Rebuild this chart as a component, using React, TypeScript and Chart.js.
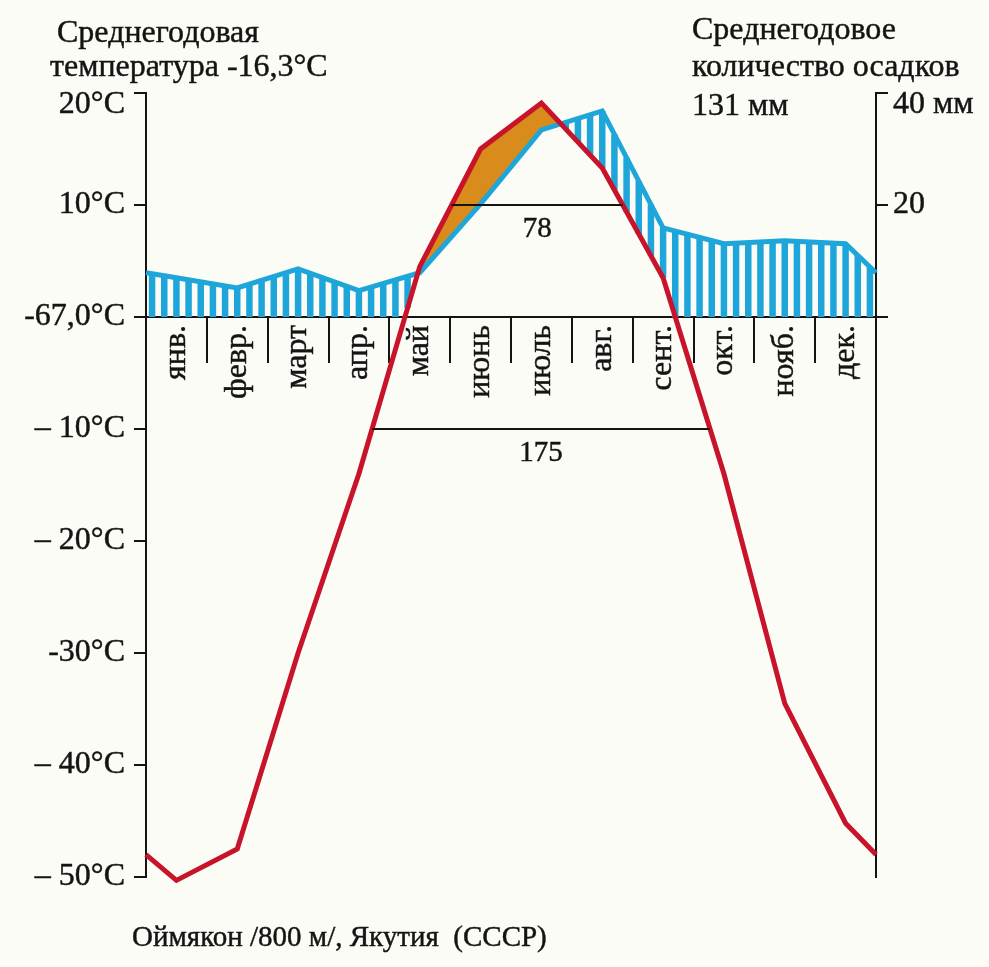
import React, { useEffect, useRef } from "react";
import { Chart, registerables } from "chart.js";

Chart.register(...registerables);

// ---- data ----
const months = ["янв.", "февр.", "март", "апр.", "май", "июнь", "июль", "авг.", "сент.", "окт.", "нояб.", "дек."];
// mean monthly temperature, °C
const temperature = [-50.3, -47.5, -30.0, -14.0, 4.5, 15.0, 19.1, 13.3, 3.5, -14.0, -34.5, -45.2];
// mean monthly precipitation, mm
const precipitation = [7.0, 5.2, 8.6, 4.7, 7.9, 20.2, 33.4, 36.8, 15.9, 13.1, 13.6, 13.1];
// values drawn at the year boundaries (start of January / end of December)
const temperatureAtYearEdge = -48.0;
const precipitationAtYearEdge = 7.9;

const tempTicks = [20, 10, 0, -10, -20, -30, -40, -50];
const tempTickLabels = ["20°C", "10°C", "-67,0°C", "– 10°C", "– 20°C", "-30°C", "– 40°C", "– 50°C"];
const precipTicks = [40, 20, 0];
const precipTickLabels = ["40 мм", "20", ""];

// periods: days with temperature above the level
const periodLevels = [10, -10];
const periodDays = ["78", "175"];

const titleLeft = ["Среднегодовая", "температура -16,3°C"];
const titleRight = ["Среднегодовое", "количество осадков", "131 мм"];
const stationLabel = "Оймякон /800 м/, Якутия  (СССР)";

// ---- styling ----
const RED = "#c8142a";
const BLUE = "#1ea6da";
const ORANGE = "#d98c1c";
const INK = "#141414";
const FONT_FAMILY = "'Liberation Serif', serif";
const STROKE = 0.45;

type Pt = { x: number; y: number };

function series(values: number[], edge: number): Pt[] {
  const pts: Pt[] = [{ x: 0, y: edge }];
  values.forEach((v, i) => pts.push({ x: i + 0.5, y: v }));
  pts.push({ x: 12, y: edge });
  return pts;
}

const tempPts = series(temperature, temperatureAtYearEdge);
const precipPts = series(precipitation, precipitationAtYearEdge);

function valueAt(pts: Pt[], x: number): number {
  for (let i = 0; i < pts.length - 1; i++) {
    const a = pts[i];
    const b = pts[i + 1];
    if (x >= a.x && x <= b.x) return a.y + ((b.y - a.y) * (x - a.x)) / (b.x - a.x);
  }
  return x < pts[0].x ? pts[0].y : pts[pts.length - 1].y;
}

function crossings(pts: Pt[], level: number): number[] {
  const res: number[] = [];
  for (let i = 0; i < pts.length - 1; i++) {
    const a = pts[i];
    const b = pts[i + 1];
    if ((a.y - level) * (b.y - level) < 0) {
      res.push(a.x + ((level - a.y) * (b.x - a.x)) / (b.y - a.y));
    }
  }
  return res;
}

function drawText(ctx: CanvasRenderingContext2D, text: string, x: number, y: number) {
  ctx.fillText(text, x, y);
  ctx.strokeText(text, x, y);
}

const climatePlugin = {
  id: "walterLieth",
  beforeDatasetsDraw(chart: any) {
    const { ctx, chartArea: a } = chart;
    const sx = chart.scales.x;
    const sT = chart.scales.yT;
    const sP = chart.scales.yP;
    const zeroY = sT.getPixelForValue(0);
    const yAt = (px: number) => {
      const xv = sx.getValueForPixel(px);
      return {
        ty: sT.getPixelForValue(valueAt(tempPts, xv)),
        py: sP.getPixelForValue(valueAt(precipPts, xv)),
      };
    };
    ctx.save();
    ctx.beginPath();
    ctx.rect(a.left, a.top, a.right - a.left, a.bottom - a.top);
    ctx.clip();

    // arid period: temperature curve above precipitation curve
    const runs: { px: number; ty: number; py: number }[][] = [];
    let run: { px: number; ty: number; py: number }[] = [];
    for (let px = a.left; px <= a.right; px += 0.5) {
      const { ty, py } = yAt(px);
      if (ty < py) run.push({ px, ty, py });
      else if (run.length) {
        runs.push(run);
        run = [];
      }
    }
    if (run.length) runs.push(run);
    ctx.fillStyle = ORANGE;
    runs.forEach((r) => {
      ctx.beginPath();
      r.forEach((p, i) => (i ? ctx.lineTo(p.px, p.ty) : ctx.moveTo(p.px, p.ty)));
      for (let i = r.length - 1; i >= 0; i--) ctx.lineTo(r[i].px, r[i].py);
      ctx.closePath();
      ctx.fill();
    });

    // humid period: vertical hatching between precipitation and max(temperature, 0)
    const n = 60;
    const step = (a.right - a.left) / n;
    ctx.strokeStyle = BLUE;
    ctx.lineWidth = 6.5;
    for (let k = 0; k < n; k++) {
      const px = a.left + (k + 0.5) * step;
      const { ty, py } = yAt(px);
      const lower = Math.min(ty, zeroY);
      if (py < lower) {
        ctx.beginPath();
        ctx.moveTo(px, py);
        ctx.lineTo(px, lower);
        ctx.stroke();
      }
    }
    ctx.restore();
  },
  afterDatasetsDraw(chart: any) {
    const { ctx } = chart;
    const sx = chart.scales.x;
    const sT = chart.scales.yT;
    ctx.save();
    periodLevels.forEach((level, i) => {
      const xs = crossings(tempPts, level);
      if (xs.length < 2) return;
      const x0 = sx.getPixelForValue(xs[0]);
      const x1 = sx.getPixelForValue(xs[xs.length - 1]);
      const y = sT.getPixelForValue(level);
      ctx.strokeStyle = INK;
      ctx.lineWidth = 2;
      ctx.beginPath();
      ctx.moveTo(x0, y);
      ctx.lineTo(x1, y);
      ctx.stroke();
      ctx.fillStyle = INK;
      ctx.lineWidth = STROKE;
      ctx.font = `29px ${FONT_FAMILY}`;
      ctx.textAlign = "center";
      ctx.textBaseline = "alphabetic";
      drawText(ctx, periodDays[i], (x0 + x1) / 2, y + 32);
    });
    ctx.restore();
  },
  afterDraw(chart: any) {
    const { ctx } = chart;
    ctx.save();
    ctx.fillStyle = INK;
    ctx.strokeStyle = INK;
    ctx.lineWidth = STROKE;
    ctx.font = `32px ${FONT_FAMILY}`;
    ctx.textAlign = "left";
    ctx.textBaseline = "alphabetic";
    drawText(ctx, titleLeft[0], 57, 42);
    drawText(ctx, titleLeft[1], 50, 76);
    drawText(ctx, titleRight[0], 692, 39);
    drawText(ctx, titleRight[1], 692, 76);
    drawText(ctx, titleRight[2], 692, 115);
    ctx.font = `29px ${FONT_FAMILY}`;
    drawText(ctx, stationLabel, 132, 946);
    ctx.restore();
  },
};

export default function App() {
  const ref = useRef<HTMLCanvasElement | null>(null);

  useEffect(() => {
    if (!ref.current) return;
    const baseFont = { family: FONT_FAMILY, size: 32 };
    // the top-most labels sit a little below their tick marks
    const tickFont = (top: number) => (c: any) =>
      c && c.tick && c.tick.value === top ? { family: FONT_FAMILY, size: 32, lineHeight: 0.7 } : baseFont;
    const chart = new Chart(ref.current, {
      type: "line",
      data: {
        datasets: [
          {
            label: "Осадки",
            data: precipPts,
            xAxisID: "x",
            yAxisID: "yP",
            borderColor: BLUE,
            borderWidth: 5,
            pointRadius: 0,
            fill: false,
            tension: 0,
            clip: 10,
            order: 2,
          },
          {
            label: "Температура",
            data: tempPts,
            xAxisID: "x",
            yAxisID: "yT",
            borderColor: RED,
            borderWidth: 5,
            pointRadius: 0,
            fill: false,
            tension: 0,
            clip: 10,
            order: 1,
          },
        ],
      },
      options: {
        responsive: false,
        animation: false,
        devicePixelRatio: 1,
        layout: { padding: { top: 93, bottom: 90, left: 0, right: 0 } },
        plugins: { legend: { display: false }, tooltip: { enabled: false } },
        scales: {
          x: {
            type: "linear",
            min: 0,
            max: 12,
            position: { yT: 0 } as any,
            afterBuildTicks: (s: any) => {
              s.ticks = months.slice(1).map((_, i) => ({ value: i + 1 }));
            },
            ticks: { display: false },
            grid: { drawOnChartArea: false, color: INK, lineWidth: 2, tickLength: 45 },
            border: { display: true, color: INK, width: 2 },
          },
          xm: {
            type: "category",
            labels: months,
            offset: true,
            position: { yT: 0 } as any,
            grid: { display: false, drawTicks: false },
            border: { display: false },
            ticks: {
              minRotation: 90,
              maxRotation: 90,
              autoSkip: false,
              padding: 8,
              color: INK,
              textStrokeColor: INK,
              textStrokeWidth: STROKE,
              font: { family: FONT_FAMILY, size: 32 },
            },
          },
          yT: {
            type: "linear",
            position: "left",
            min: -50,
            max: 20,
            afterBuildTicks: (s: any) => {
              s.ticks = tempTicks.map((v) => ({ value: v }));
            },
            afterFit: (s: any) => {
              s.width = 146;
            },
            ticks: {
              color: INK,
              textStrokeColor: INK,
              textStrokeWidth: STROKE,
              font: tickFont(tempTicks[0]),
              padding: 9,
              callback: (v: any) => {
                const i = tempTicks.indexOf(Number(v));
                if (i < 0) return "";
                return i === 0 ? ["", tempTickLabels[i]] : tempTickLabels[i];
              },
            },
            grid: { drawOnChartArea: false, color: INK, lineWidth: 2, tickLength: 12 },
            border: { display: true, color: INK, width: 2 },
          },
          yP: {
            type: "linear",
            position: "right",
            min: -100,
            max: 40,
            afterBuildTicks: (s: any) => {
              s.ticks = precipTicks.map((v) => ({ value: v }));
            },
            afterFit: (s: any) => {
              s.width = 113;
            },
            ticks: {
              color: INK,
              textStrokeColor: INK,
              textStrokeWidth: STROKE,
              font: tickFont(precipTicks[0]),
              padding: 5,
              callback: (v: any) => {
                const i = precipTicks.indexOf(Number(v));
                if (i < 0) return "";
                return i === 0 ? ["", precipTickLabels[i]] : precipTickLabels[i];
              },
            },
            grid: { drawOnChartArea: false, color: INK, lineWidth: 2, tickLength: 12 },
            border: { display: true, color: INK, width: 2 },
          },
        },
      },
      plugins: [climatePlugin],
    } as any);
    return () => chart.destroy();
  }, []);

  return (
    <div style={{ position: "absolute", left: 0, top: 0, width: 989, height: 967, background: "#fcfcf6" }}>
      <canvas ref={ref} width={989} height={967} style={{ display: "block", width: 989, height: 967 }} />
    </div>
  );
}
